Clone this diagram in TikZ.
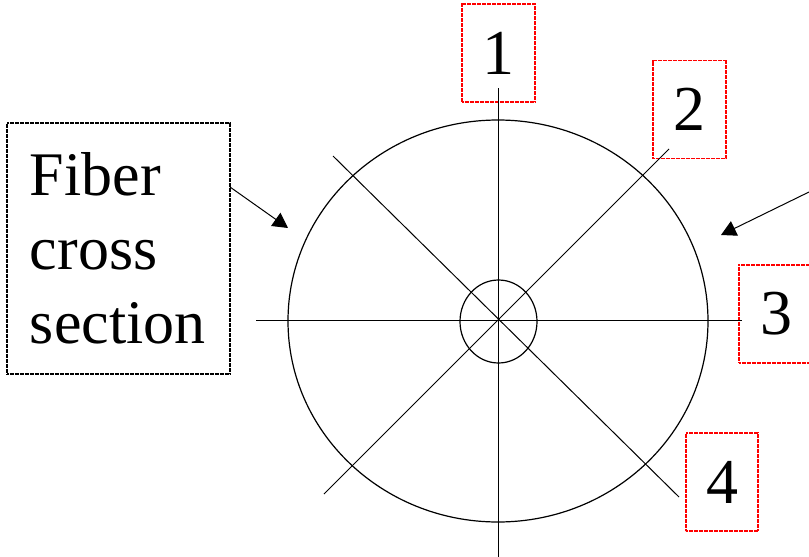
\documentclass[tikz,border=0pt]{standalone}
\usepackage{fontspec}
\setmainfont{Liberation Serif}
\usetikzlibrary{shapes.geometric,arrows.meta}
\tikzset{
  numbox/.style={draw=red, line width=1.1pt, dash pattern=on 2pt off 0.5pt,
    minimum width=73pt, minimum height=98pt, inner sep=0pt,
    font=\fontsize{64}{74}\selectfont},
  labelbox/.style={draw=black, line width=1.1pt, dash pattern=on 2pt off 0.5pt,
    minimum width=223pt, minimum height=251pt, inner xsep=23pt, inner ysep=0pt,
    text width=177pt, align=left, font=\fontsize{62}{74}\selectfont},
  axisline/.style={line width=1pt, dash pattern=on 1.5pt off 0.5pt},
  diagline/.style={line width=1pt},
  ring/.style={ellipse, draw, line width=1.2pt, inner sep=0pt},
  pointer/.style={line width=1pt, -{Triangle[length=15pt,width=16pt]}}
}
\begin{document}
\begin{tikzpicture}[x=1pt,y=-1pt]
\useasboundingbox (0,0) rectangle (809,557);
% outer and inner circles
\node[ring, minimum width=420pt, minimum height=402pt] (outer) at (498,321) {};
\node[ring, minimum width=77pt, minimum height=83pt] (core) at (498.5,321.5) {};
% number boxes
\node[numbox] (b1) at (498.5,53) {1};
\node[numbox] (b2) at (689.5,109.5) {2};
\node[numbox, minimum width=74pt] (b3) at (776,314) {3};
\node[numbox, minimum width=72pt] (b4) at (722,482) {4};
% axis lines
\coordinate (vtop) at (498.5,88);
\coordinate (vbot) at (498.5,557);
\coordinate (hl) at (256,320);
\coordinate (hr) at (742,320);
\coordinate (d1a) at (333,156);
\coordinate (d1b) at (679,497);
\coordinate (d2a) at (324,494);
\coordinate (d2b) at (669,149);
\draw[axisline] (vtop) -- (vbot);
\draw[axisline] (hl) -- (hr);
\draw[diagline] (d1a) -- (d1b);
\draw[diagline] (d2a) -- (d2b);
% label box
\node[labelbox] (fiber) at (118.5,248.5) {Fiber\\cross\\section};
% arrows
\coordinate (ls) at (230,187);
\coordinate (lt) at (288,228);
\coordinate (rs) at (809,192);
\coordinate (rt) at (721,235);
\draw[pointer] (ls) -- (lt);
\draw[pointer] (rs) -- (rt);
\end{tikzpicture}
\end{document}
